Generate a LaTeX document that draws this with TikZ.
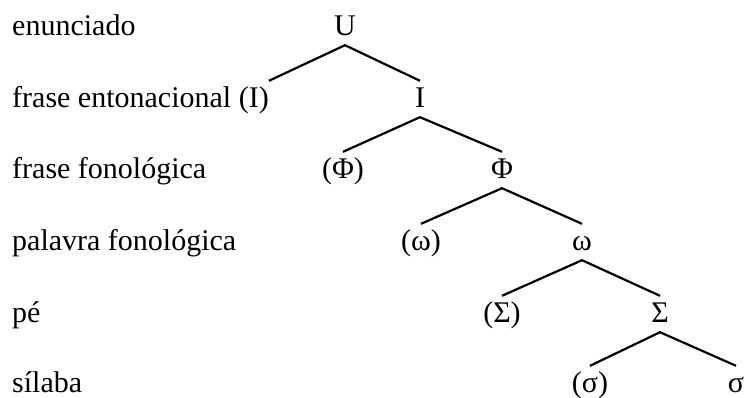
\documentclass[tikz,border=0pt]{standalone}
\usepackage{fontspec}
\setmainfont{Liberation Serif}
\begin{document}
\begin{tikzpicture}[x=1pt,y=-1pt,
  txt/.style={inner xsep=0pt, inner ysep=4pt, text height=22pt, text depth=6pt,
    font=\fontsize{30}{36}\selectfont},
  lvl/.style={txt, anchor=base west},
  cat/.style={txt, anchor=base},
  branch/.style={line width=2.2pt}]
\useasboundingbox (0,0) rectangle (744,397);

% prosodic hierarchy level names
\node[lvl] (l1) at (12,35)  {enunciado};
\node[lvl] (l2) at (12,107) {frase entonacional (I)};
\node[lvl] (l3) at (12,178) {frase fonológica};
\node[lvl] (l4) at (12,250) {palavra fonológica};
\node[lvl] (l5) at (12,322) {pé};
\node[lvl] (l6) at (12,392) {sílaba};

% constituents
\node[cat] (U)    at (345,35)  {U};
\node[cat] (I)    at (420,107) {I};
\node[cat] (Phi0) at (343,178) {(Φ)};
\node[cat] (Phi)  at (502,178) {Φ};
\node[cat] (om0)  at (421,250) {(ω)};
\node[cat] (om)   at (582,250) {ω};
\node[cat] (Sg0)  at (502,322) {(Σ)};
\node[cat] (Sg)   at (660,322) {Σ};
\node[cat] (sg0)  at (590,392) {(σ)};
\node[cat] (sg)   at (736,392) {σ};

% branches
\draw[branch] (l2.north east) -- (U.south) -- (I.north);
\draw[branch] (Phi0.north) -- (I.south) -- (Phi.north);
\draw[branch] (om0.north) -- (Phi.south) -- (om.north);
\draw[branch] (Sg0.north) -- (om.south) -- (Sg.north);
\draw[branch] (sg0.north) -- (Sg.south) -- (sg.north);
\end{tikzpicture}
\end{document}
